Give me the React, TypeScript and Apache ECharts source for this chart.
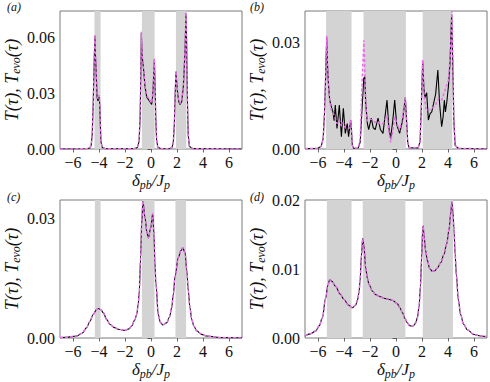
import React, { useEffect, useRef } from "react";
import * as echarts from "echarts";

// ---------- data ----------
const X_TICKS = [-6, -4, -2, 0, 2, 4, 6];
const PANEL_LABELS = ["(a)", "(b)", "(c)", "(d)"];
const Y_TICKS_A = [0, 0.03, 0.06];
const Y_TICKS_B = [0, 0.03];
const Y_TICKS_C = [0, 0.03];
const Y_TICKS_D = [0, 0.01, 0.02];
const Y_MAX = [0.0744, 0.039, 0.0346, 0.0201];

const BANDS_A: [number, number][] = [[-4.35, -3.88], [-0.7, 0.28], [1.92, 2.72]];
const BANDS_B: [number, number][] = [[-5.38, -3.42], [-2.5, 0.76], [2.05, 4.33]];
const BANDS_C: [number, number][] = [[-4.32, -3.88], [-0.7, 0.27], [1.88, 2.7]];
const BANDS_D: [number, number][] = [[-5.32, -3.42], [-2.56, 0.72], [2.06, 4.38]];

const A_T: [number, number][] = [
  [-7, 0], [-5, 0.0001], [-4.7, 0.0005], [-4.6, 0.002], [-4.52, 0.008], [-4.44, 0.026],
  [-4.36, 0.05], [-4.31, 0.061], [-4.27, 0.05], [-4.23, 0.044], [-4.15, 0.028], [-4.08, 0.026],
  [-4.0, 0.028], [-3.95, 0.025], [-3.9, 0.014], [-3.85, 0.004], [-3.75, 0.0008], [-3.5, 0.0001],
  [-1.3, 0.0001], [-1.05, 0.0008], [-0.92, 0.004], [-0.84, 0.016], [-0.78, 0.04], [-0.745, 0.0627],
  [-0.68, 0.05], [-0.59, 0.0444], [-0.46, 0.0336], [-0.33, 0.028], [-0.08, 0.0255], [0.05, 0.024],
  [0.12, 0.028], [0.18, 0.0354], [0.26, 0.0483], [0.31, 0.035], [0.37, 0.016], [0.43, 0.005],
  [0.52, 0.001], [0.8, 0.0001], [1.45, 0.0001], [1.62, 0.0008], [1.72, 0.004], [1.8, 0.014],
  [1.87, 0.032], [1.92, 0.0417], [1.98, 0.036], [2.05, 0.03], [2.14, 0.0255], [2.23, 0.024],
  [2.36, 0.0255], [2.49, 0.0336], [2.62, 0.0533], [2.69, 0.073], [2.74, 0.058], [2.79, 0.03],
  [2.86, 0.008], [2.95, 0.0015], [3.2, 0.0002], [5, 0.0001], [7, 0],
];
const A_TEVO: [number, number][] = [
  [-7, 0], [-5, 0.0001], [-4.7, 0.0005], [-4.6, 0.002], [-4.52, 0.008], [-4.44, 0.026],
  [-4.36, 0.05], [-4.31, 0.0615], [-4.27, 0.05], [-4.23, 0.044], [-4.15, 0.029], [-4.08, 0.027],
  [-4.0, 0.029], [-3.95, 0.026], [-3.9, 0.014], [-3.85, 0.004], [-3.75, 0.0008], [-3.5, 0.0001],
  [-1.3, 0.0001], [-1.05, 0.0008], [-0.92, 0.004], [-0.84, 0.016], [-0.78, 0.04], [-0.745, 0.0632],
  [-0.68, 0.051], [-0.59, 0.0448], [-0.46, 0.0342], [-0.33, 0.0288], [-0.08, 0.0262], [0.05, 0.0248],
  [0.12, 0.029], [0.18, 0.036], [0.26, 0.0488], [0.31, 0.035], [0.37, 0.016], [0.43, 0.005],
  [0.52, 0.001], [0.8, 0.0001], [1.45, 0.0001], [1.62, 0.0008], [1.72, 0.004], [1.8, 0.014],
  [1.87, 0.032], [1.92, 0.042], [1.98, 0.036], [2.05, 0.0305], [2.14, 0.026], [2.23, 0.0245],
  [2.36, 0.026], [2.49, 0.034], [2.62, 0.054], [2.69, 0.0738], [2.74, 0.058], [2.79, 0.03],
  [2.86, 0.008], [2.95, 0.0015], [3.2, 0.0002], [5, 0.0001], [7, 0],
];

const B_T: [number, number][] = [
  [-7, 0.0001], [-6, 0.0002], [-5.75, 0.0008], [-5.6, 0.003], [-5.5, 0.01], [-5.4, 0.022],
  [-5.33, 0.0315], [-5.27, 0.024], [-5.2, 0.0185], [-5.1, 0.0138], [-4.97, 0.0119], [-4.85, 0.0105],
  [-4.76, 0.008], [-4.67, 0.0124], [-4.54, 0.0058], [-4.45, 0.009], [-4.36, 0.0124], [-4.2, 0.0035],
  [-4.05, 0.0115], [-3.9, 0.0044], [-3.75, 0.0072], [-3.65, 0.0035], [-3.49, 0.0082], [-3.42, 0.005],
  [-3.36, 0.001], [-3.25, 0.0002], [-2.9, 0.0003], [-2.75, 0.002], [-2.6, 0.012], [-2.48, 0.02],
  [-2.4, 0.0204], [-2.33, 0.013], [-2.2, 0.0072], [-2.1, 0.0055], [-1.9, 0.0087], [-1.75, 0.006],
  [-1.6, 0.0055], [-1.38, 0.0087], [-1.2, 0.0055], [-1.0, 0.0044], [-0.85, 0.009], [-0.69, 0.0138],
  [-0.55, 0.006], [-0.41, 0.003], [-0.25, 0.008], [-0.1, 0.0138], [0.05, 0.007], [0.28, 0.0044],
  [0.5, 0.008], [0.72, 0.0145], [0.8, 0.009], [0.9, 0.002], [1.0, 0.0004], [1.7, 0.0003],
  [1.85, 0.002], [1.95, 0.012], [2.05, 0.0248], [2.15, 0.017], [2.23, 0.0145], [2.36, 0.0159],
  [2.49, 0.0082], [2.62, 0.01], [2.75, 0.0105], [2.9, 0.013], [3.05, 0.0155], [3.22, 0.0223],
  [3.35, 0.013], [3.51, 0.0063], [3.62, 0.009], [3.72, 0.0138], [3.8, 0.0105], [3.9, 0.013],
  [4.03, 0.0176], [4.15, 0.024], [4.28, 0.038], [4.36, 0.025], [4.45, 0.008], [4.55, 0.001],
  [4.8, 0.0002], [7, 0],
];
const B_TEVO: [number, number][] = [
  [-7, 0.0001], [-6, 0.0002], [-5.75, 0.0008], [-5.6, 0.003], [-5.5, 0.01], [-5.4, 0.022],
  [-5.33, 0.032], [-5.27, 0.024], [-5.2, 0.019], [-5.1, 0.0135], [-4.97, 0.011], [-4.85, 0.0102],
  [-4.7, 0.009], [-4.54, 0.0072], [-4.36, 0.0082], [-4.2, 0.0065], [-4.05, 0.0075], [-3.9, 0.006],
  [-3.75, 0.0062], [-3.6, 0.0058], [-3.49, 0.0082], [-3.42, 0.005], [-3.36, 0.001], [-3.25, 0.0002],
  [-2.9, 0.0003], [-2.75, 0.003], [-2.6, 0.02], [-2.47, 0.0307], [-2.38, 0.02], [-2.3, 0.011],
  [-2.2, 0.0079], [-2.0, 0.0085], [-1.8, 0.0082], [-1.6, 0.0075], [-1.4, 0.0078], [-1.2, 0.007],
  [-1.0, 0.0072], [-0.8, 0.0085], [-0.69, 0.0095], [-0.55, 0.005], [-0.41, 0.0019], [-0.25, 0.005],
  [-0.1, 0.009], [0.05, 0.0075], [0.28, 0.0052], [0.5, 0.009], [0.72, 0.0145], [0.8, 0.009],
  [0.9, 0.002], [1.0, 0.0004], [1.7, 0.0003], [1.85, 0.002], [1.95, 0.012], [2.05, 0.0252],
  [2.15, 0.016], [2.31, 0.011], [2.62, 0.0112], [3.0, 0.0121], [3.26, 0.0143], [3.51, 0.0138],
  [3.77, 0.0166], [4.03, 0.0194], [4.2, 0.028], [4.3, 0.039], [4.38, 0.025], [4.45, 0.008],
  [4.55, 0.001], [4.8, 0.0002], [7, 0],
];

const C_T: [number, number][] = [
  [-7, 0.0001], [-6.5, 0.0002], [-5.72, 0.0005], [-5.3, 0.0012], [-4.95, 0.0026], [-4.7, 0.0042],
  [-4.44, 0.0059], [-4.2, 0.0071], [-4.05, 0.0074], [-3.85, 0.0071], [-3.67, 0.0063], [-3.4, 0.0046],
  [-3.15, 0.0034], [-2.8, 0.0026], [-2.51, 0.0022], [-2.0, 0.0019], [-1.7, 0.0023], [-1.49, 0.003],
  [-1.25, 0.0045], [-1.1, 0.0059], [-0.98, 0.0085], [-0.9, 0.0118], [-0.8, 0.02], [-0.72, 0.0285],
  [-0.62, 0.0343], [-0.46, 0.0301], [-0.3, 0.0262], [-0.2, 0.0251], [-0.02, 0.0276], [0.13, 0.0312],
  [0.23, 0.026], [0.3, 0.019], [0.38, 0.0135], [0.56, 0.0059], [0.72, 0.0039], [0.9, 0.0033],
  [1.2, 0.0038], [1.42, 0.0052], [1.59, 0.0076], [1.72, 0.011], [1.85, 0.0155], [2.1, 0.0201],
  [2.3, 0.0219], [2.44, 0.0226], [2.62, 0.0214], [2.75, 0.017], [2.87, 0.0118], [3.0, 0.0075],
  [3.13, 0.0047], [3.3, 0.003], [3.51, 0.0018], [3.9, 0.0009], [4.28, 0.0005], [5.3, 0.0001], [7, 0],
];
const C_TEVO: [number, number][] = C_T.map((p) => [p[0], p[1]] as [number, number]);

const D_T: [number, number][] = [
  [-7, 0.0003], [-6.6, 0.0006], [-6.18, 0.001], [-5.9, 0.0018], [-5.67, 0.0029], [-5.41, 0.0058],
  [-5.25, 0.0076], [-5.1, 0.0085], [-4.95, 0.0083], [-4.64, 0.0075], [-4.3, 0.0064], [-4.0, 0.0056],
  [-3.66, 0.0048], [-3.36, 0.0044], [-3.1, 0.0048], [-2.97, 0.0055], [-2.85, 0.0065], [-2.77, 0.0082],
  [-2.66, 0.012], [-2.56, 0.0145], [-2.47, 0.0135], [-2.33, 0.0102], [-2.2, 0.0087], [-2.08, 0.0078],
  [-1.8, 0.0068], [-1.56, 0.0063], [-1.2, 0.006], [-0.92, 0.0058], [-0.5, 0.0056], [-0.28, 0.0055],
  [0.1, 0.005], [0.3, 0.0044], [0.49, 0.0037], [0.7, 0.0028], [0.87, 0.0022], [1.05, 0.0018],
  [1.26, 0.0017], [1.4, 0.0019], [1.51, 0.0022], [1.65, 0.003], [1.77, 0.0045], [1.88, 0.0075],
  [1.97, 0.0116], [2.05, 0.0158], [2.09, 0.0163], [2.16, 0.0148], [2.27, 0.0128], [2.41, 0.0113],
  [2.6, 0.0101], [2.79, 0.0097], [3.0, 0.0098], [3.18, 0.0102], [3.45, 0.011], [3.69, 0.0122],
  [3.9, 0.0137], [4.08, 0.0158], [4.2, 0.018], [4.3, 0.0198], [4.38, 0.0185], [4.46, 0.0158],
  [4.55, 0.0122], [4.64, 0.0092], [4.8, 0.0055], [4.97, 0.0034], [5.2, 0.002], [5.49, 0.0012],
  [6.0, 0.0005], [6.5, 0.0003], [7, 0.0002],
];
const D_TEVO: [number, number][] = D_T.map((p) => [p[0], p[1]] as [number, number]);

// ---------- styling ----------
const SERIF = "Liberation Serif";
const GRIDS = [
  { left: 60, top: 11 },
  { left: 305, top: 11 },
  { left: 60, top: 200 },
  { left: 305, top: 200 },
];
const GRID_W = 182;
const GRID_H = 138;

const PANELS = [
  { t: A_T, e: A_TEVO, bands: BANDS_A, yTicks: Y_TICKS_A, smooth: false },
  { t: B_T, e: B_TEVO, bands: BANDS_B, yTicks: Y_TICKS_B, smooth: false },
  { t: C_T, e: C_TEVO, bands: BANDS_C, yTicks: Y_TICKS_C, smooth: 0.35 },
  { t: D_T, e: D_TEVO, bands: BANDS_D, yTicks: Y_TICKS_D, smooth: 0.35 },
];

function buildOption() {
  const grid: any[] = [];
  const xAxis: any[] = [];
  const yAxis: any[] = [];
  const series: any[] = [];
  PANELS.forEach((p, i) => {
    grid.push({
      left: GRIDS[i].left,
      top: GRIDS[i].top,
      width: GRID_W,
      height: GRID_H,
      show: true,
      borderColor: "#7a7a7a",
      borderWidth: 1,
      backgroundColor: "transparent",
    });
    xAxis.push({
      type: "value",
      gridIndex: i,
      min: -7,
      max: 7,
      splitLine: { show: false },
      axisLine: { show: false },
      axisTick: { show: true, length: 3.5, inside: false, customValues: X_TICKS, lineStyle: { color: "#444", width: 0.8 } },
      axisLabel: {
        customValues: X_TICKS,
        margin: 5,
        fontFamily: SERIF,
        fontSize: 16,
        color: "#111",
        formatter: (v: number) => (v < 0 ? "\u2212" + Math.abs(v) : String(v)),
      },
      name: "{i|δ}{s|pb}{i|/J}{s|p}",
      nameLocation: "middle",
      nameGap: 21,
      nameTextStyle: {
        fontFamily: SERIF,
        fontSize: 17,
        color: "#111",
        rich: {
          i: { fontFamily: SERIF, fontStyle: "italic", fontSize: 17, color: "#111" },
          s: { fontFamily: SERIF, fontStyle: "italic", fontSize: 12, color: "#111", padding: [9, 0, 0, 0] },
        },
      },
    });
    yAxis.push({
      type: "value",
      gridIndex: i,
      min: 0,
      max: Y_MAX[i],
      splitLine: { show: false },
      axisLine: { show: false },
      axisTick: { show: true, length: 3.5, customValues: p.yTicks, lineStyle: { color: "#444", width: 0.8 } },
      axisLabel: {
        customValues: p.yTicks,
        margin: 5,
        fontFamily: SERIF,
        fontSize: 16,
        color: "#111",
        formatter: (v: number) => v.toFixed(2),
      },
      name: "{i|T}(τ), {i|T}{s|evo}(τ)",
      nameLocation: "middle",
      nameRotate: 90,
      nameGap: 38,
      nameTextStyle: {
        fontFamily: SERIF,
        fontSize: 18,
        fontStyle: "italic",
        color: "#111",
        rich: {
          i: { fontFamily: SERIF, fontStyle: "italic", fontSize: 18, color: "#111" },
          s: { fontFamily: SERIF, fontStyle: "italic", fontSize: 12, color: "#111", padding: [9, 0, 0, 0] },
        },
      },
    });
    series.push({
      type: "line",
      xAxisIndex: i,
      yAxisIndex: i,
      data: [],
      z: 1,
      silent: true,
      markArea: {
        silent: true,
        itemStyle: { color: "#d3d3d3", opacity: 1 },
        data: p.bands.map((b) => [{ xAxis: b[0] }, { xAxis: b[1] }]),
      },
    });
    series.push({
      type: "line",
      name: "T",
      xAxisIndex: i,
      yAxisIndex: i,
      data: p.t,
      showSymbol: false,
      smooth: p.smooth,
      smoothMonotone: "x",
      z: 2,
      lineStyle: { color: "#000", width: 1.1 },
    });
    series.push({
      type: "line",
      name: "Tevo",
      xAxisIndex: i,
      yAxisIndex: i,
      data: p.e,
      showSymbol: false,
      smooth: p.smooth,
      smoothMonotone: "x",
      z: 3,
      lineStyle: { color: "#ea6fea", width: 1.5, type: [3, 2] },
    });
  });

  const labelPos = [
    [7, 1],
    [250, 1],
    [7, 191],
    [250, 191],
  ];
  const graphic = PANEL_LABELS.map((l, i) => ({
    type: "text",
    left: labelPos[i][0],
    top: labelPos[i][1],
    style: { text: l, fontFamily: SERIF, fontStyle: "italic", fontSize: 12, fill: "#111" },
  }));

  return { animation: false, backgroundColor: "#fff", grid, xAxis, yAxis, series, graphic };
}

export default function App() {
  const ref = useRef<HTMLDivElement>(null);
  useEffect(() => {
    if (!ref.current) return;
    const chart = echarts.init(ref.current, null, { renderer: "svg" });
    chart.setOption(buildOption() as any);
    return () => chart.dispose();
  }, []);
  return (
    <div
      ref={ref}
      style={{ position: "fixed", left: 0, top: 0, width: 490, height: 382, background: "#fff" }}
    />
  );
}
